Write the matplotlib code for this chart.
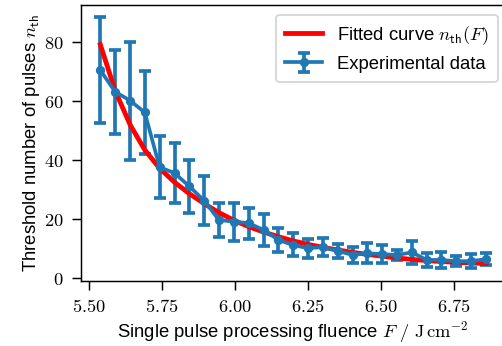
import matplotlib
matplotlib.use("Agg")
import matplotlib.pyplot as plt
from matplotlib.ticker import FuncFormatter

# DATA

fluence = [5.540, 5.591, 5.642, 5.692, 5.743, 5.794, 5.845, 5.896, 5.946,
           5.997, 6.048, 6.099, 6.150, 6.200, 6.251, 6.302, 6.353, 6.404,
           6.454, 6.505, 6.556, 6.607, 6.658, 6.708, 6.759, 6.810, 6.861]

n_th_mean = [70.5, 63.2, 60.2, 56.2, 37.6, 35.6, 31.1, 26.2, 19.7,
             19.1, 18.6, 16.3, 12.9, 11.2, 10.1, 10.5, 9.2, 7.8,
             8.4, 8.1, 7.8, 8.7, 6.1, 6.1, 5.7, 5.7, 6.4]

n_th_err = [18.0, 14.3, 20.0, 14.0, 10.5, 10.1, 9.0, 8.3, 5.7,
            6.5, 5.3, 5.3, 4.1, 3.9, 3.2, 3.2, 2.5, 2.8,
            3.4, 3.1, 1.7, 3.8, 2.3, 2.8, 1.6, 2.4, 2.1]

n_th_fit = [79.2, 63.5, 52.0, 43.5, 37.2, 32.5, 28.6, 25.2, 22.2,
            19.6, 17.4, 15.6, 14.0, 12.6, 11.4, 10.4, 9.5, 8.7,
            8.0, 7.4, 6.8, 6.3, 5.9, 5.6, 5.3, 5.1, 4.9]

x_ticks = [5.50, 5.75, 6.00, 6.25, 6.50, 6.75]
y_ticks = [0, 20, 40, 60, 80]

# PLOT SETTINGS

dpi = 133
x_lim = (5.474, 6.927)
y_lim = (-0.9, 92.8)

plt.rcParams['font.family'] = 'sans-serif'
plt.rcParams['font.sans-serif'] = ['Liberation Sans', 'DejaVu Sans']
plt.rcParams['mathtext.fontset'] = 'cm'
plt.rcParams['font.size'] = 10

fig = plt.figure(figsize=(502.4 / dpi, 346.4 / dpi), dpi=dpi)
ax = fig.add_axes([81 / 502, (346 - 280.7) / 346, (505 - 81) / 502, (280.7 - 5) / 346])

ax.errorbar(fluence, n_th_mean, yerr=n_th_err, fmt='-o', color='tab:blue',
            linewidth=2, markersize=4, elinewidth=2, capsize=3, capthick=2,
            label='Experimental data')
ax.plot(fluence, n_th_fit, color='red', linewidth=2.6,
        label=r'Fitted curve $n_\mathsf{th}(F)$')

ax.set_xlim(x_lim)
ax.set_ylim(y_lim)
ax.set_xticks(x_ticks)
ax.set_yticks(y_ticks)
ax.xaxis.set_major_formatter(FuncFormatter(lambda v, pos: r'$%.2f$' % v))
ax.yaxis.set_major_formatter(FuncFormatter(lambda v, pos: r'$%d$' % v))
ax.tick_params(length=5, pad=4.5)

ax.set_xlabel(r'Single pulse processing fluence $F\ /\ \mathrm{J\,cm}^{-2}$', labelpad=2)
ax.set_ylabel(r'Threshold number of pulses $n_\mathsf{th}$', labelpad=1)

# legend corner placed where the reference has it
ax.legend(loc='upper right', bbox_to_anchor=(497.5 / 502, 1 - 15 / 346),
          bbox_transform=fig.transFigure, borderaxespad=0, borderpad=0.5)

fig.savefig('out.png', dpi=dpi)
